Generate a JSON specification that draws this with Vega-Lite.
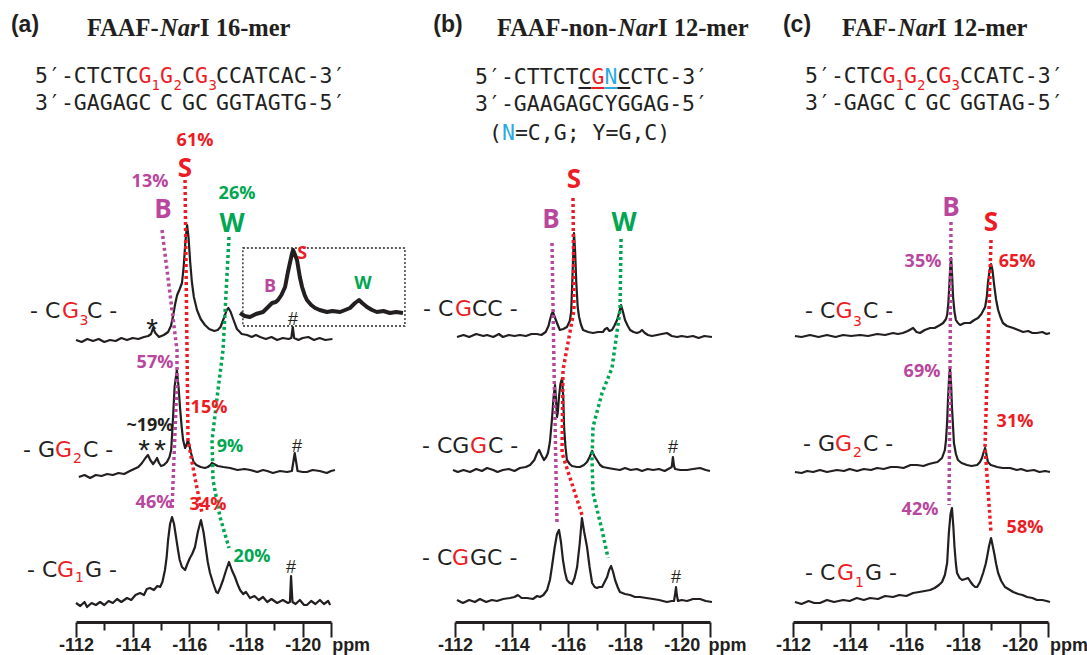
{
"$schema":"https://vega.github.io/schema/vega-lite/v6.json",
"background":"white",
"padding":{"left":10,"top":0,"right":0,"bottom":0},
"config":{"view":{"stroke":null}},
"datasets":{
"sa":[
{"s":3,"x":-112.0,"y":282},{"s":3,"x":-112.2,"y":280},{"s":3,"x":-112.4,"y":283},{"s":3,"x":-112.6,"y":281},{"s":3,"x":-112.8,"y":283},{"s":3,"x":-113.0,"y":280},{"s":3,"x":-113.2,"y":282},{"s":3,"x":-113.4,"y":281},{"s":3,"x":-113.6,"y":284},{"s":3,"x":-113.8,"y":282},{"s":3,"x":-114.0,"y":284},{"s":3,"x":-114.2,"y":283},{"s":3,"x":-114.4,"y":285},{"s":3,"x":-114.55,"y":286},{"s":3,"x":-114.65,"y":288},{"s":3,"x":-114.72,"y":294},{"s":3,"x":-114.8,"y":289},{"s":3,"x":-114.93,"y":285},{"s":3,"x":-115.1,"y":287},{"s":3,"x":-115.25,"y":290},{"s":3,"x":-115.35,"y":296},{"s":3,"x":-115.42,"y":305},{"s":3,"x":-115.5,"y":318},{"s":3,"x":-115.57,"y":327},{"s":3,"x":-115.66,"y":333},{"s":3,"x":-115.74,"y":339},{"s":3,"x":-115.8,"y":355},{"s":3,"x":-115.86,"y":380},{"s":3,"x":-115.92,"y":397},{"s":3,"x":-115.97,"y":385},{"s":3,"x":-116.03,"y":360},{"s":3,"x":-116.09,"y":340},{"s":3,"x":-116.16,"y":325},{"s":3,"x":-116.27,"y":312},{"s":3,"x":-116.4,"y":303},{"s":3,"x":-116.55,"y":297},{"s":3,"x":-116.7,"y":293},{"s":3,"x":-116.88,"y":291},{"s":3,"x":-117.0,"y":292},{"s":3,"x":-117.1,"y":295},{"s":3,"x":-117.22,"y":304},{"s":3,"x":-117.32,"y":312},{"s":3,"x":-117.38,"y":314},{"s":3,"x":-117.46,"y":310},{"s":3,"x":-117.56,"y":302},{"s":3,"x":-117.68,"y":293},{"s":3,"x":-117.85,"y":288},{"s":3,"x":-118.04,"y":287},{"s":3,"x":-118.2,"y":285},{"s":3,"x":-118.35,"y":287},{"s":3,"x":-118.5,"y":285},{"s":3,"x":-118.7,"y":283},{"s":3,"x":-118.9,"y":285},{"s":3,"x":-119.1,"y":282},{"s":3,"x":-119.3,"y":284},{"s":3,"x":-119.5,"y":283},{"s":3,"x":-119.6,"y":284},{"s":3,"x":-119.65,"y":295},{"s":3,"x":-119.7,"y":284},{"s":3,"x":-119.85,"y":282},{"s":3,"x":-120.0,"y":284},{"s":3,"x":-120.2,"y":285},{"s":3,"x":-120.4,"y":282},{"s":3,"x":-120.6,"y":284},{"s":3,"x":-120.8,"y":282},{"s":3,"x":-121.05,"y":283},
{"s":2,"x":-112.1,"y":145},{"s":2,"x":-112.3,"y":147},{"s":2,"x":-112.5,"y":144},{"s":2,"x":-112.7,"y":147},{"s":2,"x":-112.9,"y":146},{"s":2,"x":-113.1,"y":148},{"s":2,"x":-113.3,"y":147},{"s":2,"x":-113.5,"y":149},{"s":2,"x":-113.7,"y":148},{"s":2,"x":-113.9,"y":151},{"s":2,"x":-114.05,"y":153},{"s":2,"x":-114.2,"y":155},{"s":2,"x":-114.33,"y":159},{"s":2,"x":-114.45,"y":164},{"s":2,"x":-114.54,"y":167},{"s":2,"x":-114.62,"y":162},{"s":2,"x":-114.72,"y":158},{"s":2,"x":-114.8,"y":161},{"s":2,"x":-114.86,"y":164},{"s":2,"x":-114.93,"y":159},{"s":2,"x":-115.0,"y":156},{"s":2,"x":-115.1,"y":157},{"s":2,"x":-115.21,"y":160},{"s":2,"x":-115.3,"y":165},{"s":2,"x":-115.36,"y":172},{"s":2,"x":-115.42,"y":202},{"s":2,"x":-115.48,"y":235},{"s":2,"x":-115.56,"y":252},{"s":2,"x":-115.62,"y":235},{"s":2,"x":-115.67,"y":215},{"s":2,"x":-115.73,"y":195},{"s":2,"x":-115.78,"y":182},{"s":2,"x":-115.85,"y":174},{"s":2,"x":-115.9,"y":177},{"s":2,"x":-115.95,"y":182},{"s":2,"x":-116.0,"y":177},{"s":2,"x":-116.06,"y":169},{"s":2,"x":-116.15,"y":160},{"s":2,"x":-116.25,"y":157},{"s":2,"x":-116.4,"y":155},{"s":2,"x":-116.55,"y":154},{"s":2,"x":-116.65,"y":155},{"s":2,"x":-116.75,"y":157},{"s":2,"x":-116.8,"y":159},{"s":2,"x":-116.87,"y":158},{"s":2,"x":-117.0,"y":156},{"s":2,"x":-117.2,"y":155},{"s":2,"x":-117.44,"y":154},{"s":2,"x":-117.7,"y":152},{"s":2,"x":-117.95,"y":153},{"s":2,"x":-118.15,"y":152},{"s":2,"x":-118.4,"y":150},{"s":2,"x":-118.6,"y":152},{"s":2,"x":-118.75,"y":151},{"s":2,"x":-118.95,"y":149},{"s":2,"x":-119.2,"y":151},{"s":2,"x":-119.45,"y":150},{"s":2,"x":-119.62,"y":151},{"s":2,"x":-119.67,"y":160},{"s":2,"x":-119.72,"y":169},{"s":2,"x":-119.77,"y":160},{"s":2,"x":-119.82,"y":151},{"s":2,"x":-120.0,"y":150},{"s":2,"x":-120.15,"y":150},{"s":2,"x":-120.35,"y":152},{"s":2,"x":-120.6,"y":151},{"s":2,"x":-120.85,"y":149},{"s":2,"x":-121.0,"y":151},{"s":2,"x":-121.14,"y":152},
{"s":1,"x":-112.0,"y":19},{"s":1,"x":-112.15,"y":16},{"s":1,"x":-112.3,"y":20},{"s":1,"x":-112.39,"y":15},{"s":1,"x":-112.55,"y":19},{"s":1,"x":-112.7,"y":17},{"s":1,"x":-112.85,"y":20},{"s":1,"x":-113.0,"y":17},{"s":1,"x":-113.15,"y":21},{"s":1,"x":-113.3,"y":19},{"s":1,"x":-113.45,"y":23},{"s":1,"x":-113.6,"y":20},{"s":1,"x":-113.8,"y":24},{"s":1,"x":-113.95,"y":22},{"s":1,"x":-114.1,"y":27},{"s":1,"x":-114.26,"y":29},{"s":1,"x":-114.4,"y":27},{"s":1,"x":-114.5,"y":33},{"s":1,"x":-114.61,"y":34},{"s":1,"x":-114.75,"y":32},{"s":1,"x":-114.87,"y":36},{"s":1,"x":-114.97,"y":35},{"s":1,"x":-115.05,"y":40},{"s":1,"x":-115.14,"y":52},{"s":1,"x":-115.2,"y":65},{"s":1,"x":-115.25,"y":82},{"s":1,"x":-115.32,"y":98},{"s":1,"x":-115.39,"y":105},{"s":1,"x":-115.46,"y":98},{"s":1,"x":-115.53,"y":85},{"s":1,"x":-115.6,"y":72},{"s":1,"x":-115.66,"y":62},{"s":1,"x":-115.74,"y":55},{"s":1,"x":-115.85,"y":52},{"s":1,"x":-115.93,"y":58},{"s":1,"x":-116.02,"y":64},{"s":1,"x":-116.1,"y":68},{"s":1,"x":-116.2,"y":75},{"s":1,"x":-116.3,"y":90},{"s":1,"x":-116.41,"y":102},{"s":1,"x":-116.5,"y":90},{"s":1,"x":-116.57,"y":76},{"s":1,"x":-116.65,"y":60},{"s":1,"x":-116.73,"y":49},{"s":1,"x":-116.85,"y":38},{"s":1,"x":-116.95,"y":30},{"s":1,"x":-117.01,"y":29},{"s":1,"x":-117.1,"y":35},{"s":1,"x":-117.19,"y":42},{"s":1,"x":-117.3,"y":52},{"s":1,"x":-117.4,"y":60},{"s":1,"x":-117.5,"y":52},{"s":1,"x":-117.61,"y":45},{"s":1,"x":-117.7,"y":38},{"s":1,"x":-117.79,"y":32},{"s":1,"x":-117.9,"y":28},{"s":1,"x":-118.0,"y":30},{"s":1,"x":-118.14,"y":24},{"s":1,"x":-118.3,"y":26},{"s":1,"x":-118.45,"y":22},{"s":1,"x":-118.6,"y":25},{"s":1,"x":-118.75,"y":20},{"s":1,"x":-118.9,"y":23},{"s":1,"x":-119.1,"y":19},{"s":1,"x":-119.3,"y":22},{"s":1,"x":-119.48,"y":19},{"s":1,"x":-119.55,"y":20},{"s":1,"x":-119.59,"y":46},{"s":1,"x":-119.64,"y":20},{"s":1,"x":-119.75,"y":18},{"s":1,"x":-119.9,"y":22},{"s":1,"x":-120.05,"y":17},{"s":1,"x":-120.15,"y":17},{"s":1,"x":-120.3,"y":21},{"s":1,"x":-120.45,"y":18},{"s":1,"x":-120.61,"y":22},{"s":1,"x":-120.75,"y":18},{"s":1,"x":-120.9,"y":21},{"s":1,"x":-120.97,"y":17}
],
"inset":[
{"x":-117.79,"y":309},{"x":-117.95,"y":306},{"x":-118.14,"y":305},{"x":-118.35,"y":308},{"x":-118.6,"y":310},{"x":-118.78,"y":315},{"x":-118.92,"y":319},{"x":-119.05,"y":320},{"x":-119.13,"y":322},{"x":-119.25,"y":327},{"x":-119.38,"y":335},{"x":-119.48,"y":350},{"x":-119.55,"y":359},{"x":-119.62,"y":368},{"x":-119.66,"y":372},{"x":-119.72,"y":368},{"x":-119.8,"y":362},{"x":-119.9,"y":345},{"x":-119.98,"y":335},{"x":-120.07,"y":327},{"x":-120.15,"y":322},{"x":-120.3,"y":317},{"x":-120.44,"y":314},{"x":-120.6,"y":312},{"x":-120.86,"y":310},{"x":-121.05,"y":311},{"x":-121.32,"y":310},{"x":-121.5,"y":312},{"x":-121.67,"y":314},{"x":-121.85,"y":319},{"x":-121.99,"y":322},{"x":-122.1,"y":319},{"x":-122.27,"y":315},{"x":-122.45,"y":312},{"x":-122.62,"y":310},{"x":-122.85,"y":311},{"x":-123.08,"y":309},{"x":-123.3,"y":310},{"x":-123.54,"y":309}
],
"box":[{"x":-117.89,"x2":-123.61,"y":374,"y2":296}],
"sb":[
{"s":3,"x":-112.07,"y":285},{"s":3,"x":-112.3,"y":287},{"s":3,"x":-112.5,"y":285},{"s":3,"x":-112.75,"y":288},{"s":3,"x":-113.0,"y":286},{"s":3,"x":-113.13,"y":287},{"s":3,"x":-113.35,"y":285},{"s":3,"x":-113.55,"y":288},{"s":3,"x":-113.69,"y":285},{"s":3,"x":-113.9,"y":287},{"s":3,"x":-114.1,"y":286},{"s":3,"x":-114.29,"y":287},{"s":3,"x":-114.5,"y":286},{"s":3,"x":-114.7,"y":288},{"s":3,"x":-114.89,"y":288},{"s":3,"x":-115.05,"y":287},{"s":3,"x":-115.2,"y":290},{"s":3,"x":-115.3,"y":296},{"s":3,"x":-115.35,"y":302},{"s":3,"x":-115.41,"y":308},{"s":3,"x":-115.46,"y":310},{"s":3,"x":-115.52,"y":305},{"s":3,"x":-115.6,"y":299},{"s":3,"x":-115.7,"y":292},{"s":3,"x":-115.82,"y":293},{"s":3,"x":-115.95,"y":295},{"s":3,"x":-116.05,"y":301},{"s":3,"x":-116.1,"y":310},{"s":3,"x":-116.14,"y":340},{"s":3,"x":-116.17,"y":365},{"s":3,"x":-116.2,"y":389},{"s":3,"x":-116.24,"y":370},{"s":3,"x":-116.28,"y":340},{"s":3,"x":-116.33,"y":315},{"s":3,"x":-116.38,"y":305},{"s":3,"x":-116.45,"y":297},{"s":3,"x":-116.52,"y":292},{"s":3,"x":-116.7,"y":290},{"s":3,"x":-116.87,"y":289},{"s":3,"x":-117.05,"y":290},{"s":3,"x":-117.22,"y":290},{"s":3,"x":-117.3,"y":293},{"s":3,"x":-117.37,"y":294},{"s":3,"x":-117.45,"y":291},{"s":3,"x":-117.54,"y":292},{"s":3,"x":-117.62,"y":296},{"s":3,"x":-117.72,"y":302},{"s":3,"x":-117.8,"y":310},{"s":3,"x":-117.86,"y":317},{"s":3,"x":-117.93,"y":310},{"s":3,"x":-118.0,"y":302},{"s":3,"x":-118.1,"y":296},{"s":3,"x":-118.18,"y":292},{"s":3,"x":-118.3,"y":290},{"s":3,"x":-118.42,"y":289},{"s":3,"x":-118.52,"y":290},{"s":3,"x":-118.6,"y":292},{"s":3,"x":-118.7,"y":289},{"s":3,"x":-118.81,"y":287},{"s":3,"x":-118.95,"y":286},{"s":3,"x":-119.13,"y":287},{"s":3,"x":-119.3,"y":288},{"s":3,"x":-119.48,"y":289},{"s":3,"x":-119.65,"y":286},{"s":3,"x":-119.84,"y":285},{"s":3,"x":-120.0,"y":286},{"s":3,"x":-120.2,"y":285},{"s":3,"x":-120.4,"y":286},{"s":3,"x":-120.6,"y":284},{"s":3,"x":-120.8,"y":286},{"s":3,"x":-121.07,"y":285},
{"s":2,"x":-111.93,"y":152},{"s":2,"x":-112.1,"y":150},{"s":2,"x":-112.3,"y":152},{"s":2,"x":-112.53,"y":150},{"s":2,"x":-112.75,"y":153},{"s":2,"x":-112.95,"y":151},{"s":2,"x":-113.13,"y":154},{"s":2,"x":-113.35,"y":152},{"s":2,"x":-113.5,"y":150},{"s":2,"x":-113.69,"y":152},{"s":2,"x":-113.9,"y":153},{"s":2,"x":-114.1,"y":151},{"s":2,"x":-114.29,"y":154},{"s":2,"x":-114.5,"y":155},{"s":2,"x":-114.65,"y":157},{"s":2,"x":-114.8,"y":162},{"s":2,"x":-114.9,"y":169},{"s":2,"x":-114.97,"y":172},{"s":2,"x":-115.05,"y":167},{"s":2,"x":-115.14,"y":162},{"s":2,"x":-115.22,"y":165},{"s":2,"x":-115.28,"y":169},{"s":2,"x":-115.35,"y":180},{"s":2,"x":-115.42,"y":202},{"s":2,"x":-115.48,"y":225},{"s":2,"x":-115.53,"y":237},{"s":2,"x":-115.57,"y":220},{"s":2,"x":-115.6,"y":205},{"s":2,"x":-115.63,"y":210},{"s":2,"x":-115.67,"y":225},{"s":2,"x":-115.72,"y":238},{"s":2,"x":-115.78,"y":244},{"s":2,"x":-115.82,"y":225},{"s":2,"x":-115.85,"y":195},{"s":2,"x":-115.9,"y":175},{"s":2,"x":-115.95,"y":162},{"s":2,"x":-116.05,"y":158},{"s":2,"x":-116.13,"y":156},{"s":2,"x":-116.3,"y":155},{"s":2,"x":-116.41,"y":155},{"s":2,"x":-116.55,"y":157},{"s":2,"x":-116.66,"y":160},{"s":2,"x":-116.75,"y":165},{"s":2,"x":-116.84,"y":171},{"s":2,"x":-116.92,"y":166},{"s":2,"x":-117.01,"y":162},{"s":2,"x":-117.12,"y":157},{"s":2,"x":-117.22,"y":155},{"s":2,"x":-117.4,"y":154},{"s":2,"x":-117.6,"y":153},{"s":2,"x":-117.82,"y":152},{"s":2,"x":-118.0,"y":154},{"s":2,"x":-118.2,"y":152},{"s":2,"x":-118.42,"y":153},{"s":2,"x":-118.6,"y":151},{"s":2,"x":-118.8,"y":153},{"s":2,"x":-118.99,"y":152},{"s":2,"x":-119.2,"y":153},{"s":2,"x":-119.4,"y":151},{"s":2,"x":-119.59,"y":154},{"s":2,"x":-119.65,"y":155},{"s":2,"x":-119.69,"y":165},{"s":2,"x":-119.73,"y":156},{"s":2,"x":-119.77,"y":153},{"s":2,"x":-119.95,"y":152},{"s":2,"x":-120.19,"y":152},{"s":2,"x":-120.4,"y":153},{"s":2,"x":-120.65,"y":154},{"s":2,"x":-120.85,"y":152},{"s":2,"x":-121.0,"y":151},
{"s":1,"x":-112.07,"y":22},{"s":1,"x":-112.28,"y":19},{"s":1,"x":-112.5,"y":22},{"s":1,"x":-112.7,"y":20},{"s":1,"x":-112.88,"y":23},{"s":1,"x":-113.1,"y":20},{"s":1,"x":-113.3,"y":22},{"s":1,"x":-113.48,"y":21},{"s":1,"x":-113.7,"y":23},{"s":1,"x":-113.94,"y":24},{"s":1,"x":-114.1,"y":25},{"s":1,"x":-114.22,"y":27},{"s":1,"x":-114.35,"y":24},{"s":1,"x":-114.54,"y":24},{"s":1,"x":-114.75,"y":23},{"s":1,"x":-114.9,"y":26},{"s":1,"x":-115.0,"y":25},{"s":1,"x":-115.12,"y":27},{"s":1,"x":-115.25,"y":32},{"s":1,"x":-115.35,"y":42},{"s":1,"x":-115.42,"y":55},{"s":1,"x":-115.52,"y":75},{"s":1,"x":-115.6,"y":88},{"s":1,"x":-115.67,"y":92},{"s":1,"x":-115.74,"y":80},{"s":1,"x":-115.81,"y":62},{"s":1,"x":-115.88,"y":50},{"s":1,"x":-115.95,"y":42},{"s":1,"x":-116.05,"y":39},{"s":1,"x":-116.13,"y":38},{"s":1,"x":-116.22,"y":44},{"s":1,"x":-116.31,"y":55},{"s":1,"x":-116.4,"y":78},{"s":1,"x":-116.48,"y":104},{"s":1,"x":-116.56,"y":90},{"s":1,"x":-116.66,"y":75},{"s":1,"x":-116.75,"y":55},{"s":1,"x":-116.84,"y":39},{"s":1,"x":-116.93,"y":35},{"s":1,"x":-117.01,"y":34},{"s":1,"x":-117.1,"y":35},{"s":1,"x":-117.19,"y":35},{"s":1,"x":-117.28,"y":40},{"s":1,"x":-117.37,"y":45},{"s":1,"x":-117.44,"y":52},{"s":1,"x":-117.51,"y":56},{"s":1,"x":-117.58,"y":50},{"s":1,"x":-117.65,"y":42},{"s":1,"x":-117.74,"y":35},{"s":1,"x":-117.82,"y":30},{"s":1,"x":-118.0,"y":28},{"s":1,"x":-118.18,"y":27},{"s":1,"x":-118.35,"y":25},{"s":1,"x":-118.53,"y":25},{"s":1,"x":-118.75,"y":24},{"s":1,"x":-118.99,"y":23},{"s":1,"x":-119.2,"y":22},{"s":1,"x":-119.48,"y":20},{"s":1,"x":-119.65,"y":21},{"s":1,"x":-119.73,"y":21},{"s":1,"x":-119.78,"y":30},{"s":1,"x":-119.8,"y":35},{"s":1,"x":-119.83,"y":27},{"s":1,"x":-119.87,"y":21},{"s":1,"x":-120.0,"y":22},{"s":1,"x":-120.19,"y":21},{"s":1,"x":-120.4,"y":23},{"s":1,"x":-120.65,"y":23},{"s":1,"x":-120.85,"y":21},{"s":1,"x":-121.07,"y":20}
],
"sc":[
{"s":3,"x":-112.07,"y":286},{"s":3,"x":-112.3,"y":285},{"s":3,"x":-112.6,"y":287},{"s":3,"x":-112.9,"y":285},{"s":3,"x":-113.2,"y":287},{"s":3,"x":-113.5,"y":285},{"s":3,"x":-113.77,"y":287},{"s":3,"x":-114.05,"y":286},{"s":3,"x":-114.37,"y":287},{"s":3,"x":-114.65,"y":286},{"s":3,"x":-114.97,"y":288},{"s":3,"x":-115.25,"y":287},{"s":3,"x":-115.53,"y":289},{"s":3,"x":-115.7,"y":288},{"s":3,"x":-115.88,"y":289},{"s":3,"x":-116.05,"y":291},{"s":3,"x":-116.24,"y":294},{"s":3,"x":-116.36,"y":290},{"s":3,"x":-116.48,"y":289},{"s":3,"x":-116.65,"y":292},{"s":3,"x":-116.84,"y":294},{"s":3,"x":-117.0,"y":294},{"s":3,"x":-117.19,"y":297},{"s":3,"x":-117.3,"y":299},{"s":3,"x":-117.4,"y":303},{"s":3,"x":-117.44,"y":307},{"s":3,"x":-117.48,"y":318},{"s":3,"x":-117.51,"y":332},{"s":3,"x":-117.55,"y":355},{"s":3,"x":-117.58,"y":364},{"s":3,"x":-117.61,"y":350},{"s":3,"x":-117.65,"y":325},{"s":3,"x":-117.7,"y":310},{"s":3,"x":-117.75,"y":302},{"s":3,"x":-117.82,"y":299},{"s":3,"x":-117.9,"y":297},{"s":3,"x":-118.05,"y":299},{"s":3,"x":-118.25,"y":299},{"s":3,"x":-118.4,"y":302},{"s":3,"x":-118.53,"y":304},{"s":3,"x":-118.65,"y":308},{"s":3,"x":-118.78,"y":315},{"s":3,"x":-118.84,"y":325},{"s":3,"x":-118.88,"y":339},{"s":3,"x":-118.94,"y":352},{"s":3,"x":-118.99,"y":358},{"s":3,"x":-119.04,"y":352},{"s":3,"x":-119.1,"y":337},{"s":3,"x":-119.17,"y":322},{"s":3,"x":-119.24,"y":312},{"s":3,"x":-119.32,"y":305},{"s":3,"x":-119.41,"y":299},{"s":3,"x":-119.55,"y":296},{"s":3,"x":-119.77,"y":294},{"s":3,"x":-119.95,"y":292},{"s":3,"x":-120.12,"y":290},{"s":3,"x":-120.3,"y":291},{"s":3,"x":-120.45,"y":289},{"s":3,"x":-120.61,"y":289},{"s":3,"x":-120.8,"y":290},{"s":3,"x":-120.95,"y":288},{"s":3,"x":-121.07,"y":289},
{"s":2,"x":-112.07,"y":150},{"s":2,"x":-112.3,"y":149},{"s":2,"x":-112.5,"y":151},{"s":2,"x":-112.71,"y":150},{"s":2,"x":-112.95,"y":152},{"s":2,"x":-113.2,"y":150},{"s":2,"x":-113.55,"y":152},{"s":2,"x":-113.8,"y":151},{"s":2,"x":-114.0,"y":153},{"s":2,"x":-114.26,"y":151},{"s":2,"x":-114.5,"y":153},{"s":2,"x":-114.75,"y":152},{"s":2,"x":-114.97,"y":154},{"s":2,"x":-115.2,"y":153},{"s":2,"x":-115.45,"y":155},{"s":2,"x":-115.67,"y":155},{"s":2,"x":-115.9,"y":154},{"s":2,"x":-116.15,"y":157},{"s":2,"x":-116.38,"y":157},{"s":2,"x":-116.6,"y":156},{"s":2,"x":-116.8,"y":158},{"s":2,"x":-116.94,"y":159},{"s":2,"x":-117.1,"y":160},{"s":2,"x":-117.26,"y":164},{"s":2,"x":-117.36,"y":172},{"s":2,"x":-117.4,"y":182},{"s":2,"x":-117.44,"y":200},{"s":2,"x":-117.47,"y":222},{"s":2,"x":-117.51,"y":245},{"s":2,"x":-117.54,"y":254},{"s":2,"x":-117.58,"y":238},{"s":2,"x":-117.61,"y":215},{"s":2,"x":-117.65,"y":195},{"s":2,"x":-117.68,"y":179},{"s":2,"x":-117.75,"y":168},{"s":2,"x":-117.82,"y":162},{"s":2,"x":-117.95,"y":159},{"s":2,"x":-118.14,"y":157},{"s":2,"x":-118.3,"y":156},{"s":2,"x":-118.5,"y":157},{"s":2,"x":-118.6,"y":160},{"s":2,"x":-118.67,"y":164},{"s":2,"x":-118.73,"y":170},{"s":2,"x":-118.78,"y":174},{"s":2,"x":-118.83,"y":167},{"s":2,"x":-118.88,"y":160},{"s":2,"x":-118.98,"y":157},{"s":2,"x":-119.1,"y":156},{"s":2,"x":-119.2,"y":155},{"s":2,"x":-119.4,"y":154},{"s":2,"x":-119.66,"y":154},{"s":2,"x":-119.9,"y":152},{"s":2,"x":-120.05,"y":153},{"s":2,"x":-120.26,"y":151},{"s":2,"x":-120.5,"y":152},{"s":2,"x":-120.7,"y":150},{"s":2,"x":-120.9,"y":151},{"s":2,"x":-121.07,"y":150},
{"s":1,"x":-112.07,"y":20},{"s":1,"x":-112.3,"y":18},{"s":1,"x":-112.55,"y":21},{"s":1,"x":-112.75,"y":19},{"s":1,"x":-112.95,"y":19},{"s":1,"x":-113.2,"y":22},{"s":1,"x":-113.45,"y":20},{"s":1,"x":-113.77,"y":22},{"s":1,"x":-114.0,"y":21},{"s":1,"x":-114.25,"y":24},{"s":1,"x":-114.5,"y":22},{"s":1,"x":-114.72,"y":24},{"s":1,"x":-115.0,"y":23},{"s":1,"x":-115.25,"y":26},{"s":1,"x":-115.53,"y":25},{"s":1,"x":-115.75,"y":27},{"s":1,"x":-116.0,"y":26},{"s":1,"x":-116.24,"y":29},{"s":1,"x":-116.45,"y":30},{"s":1,"x":-116.65,"y":31},{"s":1,"x":-116.84,"y":32},{"s":1,"x":-117.0,"y":34},{"s":1,"x":-117.15,"y":37},{"s":1,"x":-117.26,"y":40},{"s":1,"x":-117.36,"y":47},{"s":1,"x":-117.44,"y":59},{"s":1,"x":-117.5,"y":89},{"s":1,"x":-117.56,"y":108},{"s":1,"x":-117.61,"y":114},{"s":1,"x":-117.66,"y":95},{"s":1,"x":-117.7,"y":75},{"s":1,"x":-117.75,"y":58},{"s":1,"x":-117.79,"y":49},{"s":1,"x":-117.88,"y":44},{"s":1,"x":-117.97,"y":42},{"s":1,"x":-118.08,"y":43},{"s":1,"x":-118.18,"y":44},{"s":1,"x":-118.27,"y":40},{"s":1,"x":-118.35,"y":37},{"s":1,"x":-118.43,"y":35},{"s":1,"x":-118.5,"y":35},{"s":1,"x":-118.6,"y":40},{"s":1,"x":-118.71,"y":49},{"s":1,"x":-118.8,"y":58},{"s":1,"x":-118.85,"y":65},{"s":1,"x":-118.92,"y":76},{"s":1,"x":-118.99,"y":84},{"s":1,"x":-119.05,"y":76},{"s":1,"x":-119.1,"y":69},{"s":1,"x":-119.17,"y":58},{"s":1,"x":-119.24,"y":49},{"s":1,"x":-119.35,"y":41},{"s":1,"x":-119.48,"y":35},{"s":1,"x":-119.6,"y":33},{"s":1,"x":-119.77,"y":30},{"s":1,"x":-119.95,"y":28},{"s":1,"x":-120.1,"y":27},{"s":1,"x":-120.26,"y":25},{"s":1,"x":-120.45,"y":24},{"s":1,"x":-120.61,"y":22},{"s":1,"x":-120.8,"y":22},{"s":1,"x":-120.95,"y":21},{"s":1,"x":-121.07,"y":20}
],
"ga":[
{"hue":"B","o":1,"x":-115.036,"y":392},{"hue":"B","o":2,"x":-115.565,"y":272},{"hue":"B","o":3,"x":-115.565,"y":242},{"hue":"B","o":4,"x":-115.389,"y":112},
{"hue":"S","o":1,"x":-115.848,"y":442},{"hue":"S","o":2,"x":-115.918,"y":272},{"hue":"S","o":3,"x":-115.953,"y":182},{"hue":"S","o":4,"x":-116.2,"y":144},{"hue":"S","o":5,"x":-116.448,"y":109},
{"hue":"W","o":1,"x":-117.401,"y":385},{"hue":"W","o":2,"x":-117.189,"y":272},{"hue":"W","o":3,"x":-117.012,"y":232},{"hue":"W","o":4,"x":-116.801,"y":182},{"hue":"W","o":5,"x":-116.836,"y":142},{"hue":"W","o":6,"x":-117.083,"y":105},{"hue":"W","o":7,"x":-117.401,"y":74}
],
"gb":[
{"hue":"B","o":1,"x":-115.424,"y":379},{"hue":"B","o":2,"x":-115.494,"y":255},{"hue":"B","o":3,"x":-115.6,"y":99},
{"hue":"S","o":1,"x":-116.165,"y":424},{"hue":"S","o":2,"x":-116.2,"y":312},{"hue":"S","o":3,"x":-115.812,"y":252},{"hue":"S","o":4,"x":-115.777,"y":169},{"hue":"S","o":5,"x":-116.483,"y":107},
{"hue":"W","o":1,"x":-117.86,"y":383},{"hue":"W","o":2,"x":-117.824,"y":312},{"hue":"W","o":3,"x":-117.542,"y":254},{"hue":"W","o":4,"x":-117.189,"y":229},{"hue":"W","o":5,"x":-116.871,"y":195},{"hue":"W","o":6,"x":-116.836,"y":162},{"hue":"W","o":7,"x":-116.871,"y":129},{"hue":"W","o":8,"x":-117.189,"y":92},{"hue":"W","o":9,"x":-117.401,"y":64}
],
"gc":[
{"hue":"B","o":1,"x":-117.577,"y":400},{"hue":"B","o":2,"x":-117.542,"y":252},{"hue":"B","o":3,"x":-117.507,"y":117},
{"hue":"S","o":1,"x":-118.989,"y":382},{"hue":"S","o":2,"x":-118.777,"y":175},{"hue":"S","o":3,"x":-118.989,"y":89}
],
"ul":[
{"hue":"plain","x":-116.359,"x2":-116.818,"y":534},{"hue":"mod","x":-116.818,"x2":-117.274,"y":534},{"hue":"N","x":-117.274,"x2":-117.732,"y":534},{"hue":"plain","x":-117.732,"x2":-118.188,"y":534}
],
"ta":[
{"k":"letter","hue":"plain","t":"(a)","x":-110.2,"y":597},
{"k":"title","hue":"plain","t":"FAAF-","x":-112.388,"y":586},
{"k":"titleI","hue":"plain","t":"Nar","x":-114.965,"y":586},
{"k":"title","hue":"plain","t":"I 16-mer","x":-116.377,"y":586},
{"k":"seq","hue":"plain","t":"5′-CTCTC","x":-110.553,"y":539},
{"k":"seq","hue":"mod","t":"G","x":-114.206,"y":539},
{"k":"sub","hue":"mod","t":"1","x":-114.665,"y":532},
{"k":"seq","hue":"mod","t":"G","x":-114.965,"y":539},
{"k":"sub","hue":"mod","t":"2","x":-115.442,"y":532},
{"k":"seq","hue":"plain","t":"C","x":-115.742,"y":539},
{"k":"seq","hue":"mod","t":"G","x":-116.2,"y":539},
{"k":"sub","hue":"mod","t":"3","x":-116.677,"y":532},
{"k":"seq","hue":"plain","t":"CCATCAC-3′","x":-116.942,"y":539},
{"k":"seq","hue":"plain","t":"3′-GAGAGC","x":-110.553,"y":512},
{"k":"seq","hue":"plain","t":"C","x":-114.965,"y":512},
{"k":"seq","hue":"plain","t":"GC","x":-115.742,"y":512},
{"k":"seq","hue":"plain","t":"GGTAGTG-5′","x":-116.942,"y":512},
{"k":"name","hue":"plain","t":"- C","x":-110.376,"y":304},
{"k":"name","hue":"mod","t":"G","x":-111.506,"y":304},
{"k":"nsub","hue":"mod","t":"3","x":-112.124,"y":297},
{"k":"name","hue":"plain","t":"C -","x":-112.388,"y":304},
{"k":"name","hue":"plain","t":"- G","x":-110.129,"y":165},
{"k":"name","hue":"mod","t":"G","x":-111.259,"y":165},
{"k":"nsub","hue":"mod","t":"2","x":-111.894,"y":159},
{"k":"name","hue":"plain","t":"C -","x":-112.247,"y":165},
{"k":"name","hue":"plain","t":"- C","x":-110.27,"y":45},
{"k":"name","hue":"mod","t":"G","x":-111.329,"y":45},
{"k":"nsub","hue":"mod","t":"1","x":-111.965,"y":40},
{"k":"name","hue":"plain","t":"G -","x":-112.318,"y":45},
{"k":"big","hue":"S","t":"S","x":-115.848,"y":453},
{"k":"big","hue":"B","t":"B","x":-115.071,"y":412},
{"k":"big","hue":"W","t":"W","x":-117.507,"y":398},
{"k":"pct","hue":"S","t":"61%","x":-116.2,"y":481},
{"k":"pct","hue":"B","t":"13%","x":-114.612,"y":440},
{"k":"pct","hue":"W","t":"26%","x":-117.683,"y":428},
{"k":"pct","hue":"B","t":"57%","x":-114.789,"y":259},
{"k":"pct","hue":"S","t":"15%","x":-116.695,"y":214},
{"k":"pct","hue":"plain","t":"~19%","x":-114.612,"y":196},
{"k":"pct","hue":"W","t":"9%","x":-117.436,"y":175},
{"k":"pct","hue":"B","t":"46%","x":-114.753,"y":119},
{"k":"pct","hue":"S","t":"34%","x":-116.659,"y":117},
{"k":"pct","hue":"W","t":"20%","x":-118.212,"y":65},
{"k":"inset","hue":"B","t":"B","x":-118.85,"y":335},
{"k":"inset","hue":"S","t":"S","x":-119.98,"y":368},
{"k":"inset","hue":"W","t":"W","x":-122.13,"y":338},
{"k":"star","hue":"plain","t":"*","x":-114.683,"y":283},
{"k":"star","hue":"plain","t":"*","x":-114.4,"y":162},
{"k":"star","hue":"plain","t":"*","x":-114.965,"y":162},
{"k":"hash","hue":"plain","t":"#","x":-119.66,"y":297},
{"k":"hash","hue":"plain","t":"#","x":-119.801,"y":170},
{"k":"hash","hue":"plain","t":"#","x":-119.589,"y":49},
{"k":"ppm","hue":"plain","t":"ppm","x":-121.04,"y":-29}
],
"tb":[
{"k":"letter","hue":"plain","t":"(b)","x":-111.753,"y":597},
{"k":"title","hue":"plain","t":"FAAF-non-","x":-113.483,"y":586},
{"k":"titleI","hue":"plain","t":"Nar","x":-117.754,"y":586},
{"k":"title","hue":"plain","t":"I 12-mer","x":-119.166,"y":586},
{"k":"seq","hue":"plain","t":"5′-CTTCTC","x":-112.706,"y":538},
{"k":"seq","hue":"mod","t":"G","x":-116.818,"y":538},
{"k":"seq","hue":"N","t":"N","x":-117.274,"y":538},
{"k":"seq","hue":"plain","t":"CCTC-3′","x":-117.732,"y":538},
{"k":"seq","hue":"plain","t":"3′-GAAGAGCYGGAG-5′","x":-112.706,"y":511},
{"k":"seq","hue":"plain","t":"(","x":-113.2,"y":482},
{"k":"seq","hue":"N","t":"N","x":-113.655,"y":482},
{"k":"seq","hue":"plain","t":"=C,G; Y=G,C)","x":-114.114,"y":482},
{"k":"name","hue":"plain","t":"- C","x":-110.87,"y":306},
{"k":"name","hue":"mod","t":"G","x":-112.0,"y":306},
{"k":"name","hue":"plain","t":"CC -","x":-112.6,"y":306},
{"k":"name","hue":"plain","t":"- CG","x":-110.835,"y":169},
{"k":"name","hue":"mod","t":"G","x":-112.529,"y":169},
{"k":"name","hue":"plain","t":"C -","x":-113.165,"y":169},
{"k":"name","hue":"plain","t":"- C","x":-110.835,"y":57},
{"k":"name","hue":"mod","t":"G","x":-111.894,"y":57},
{"k":"name","hue":"plain","t":"GC -","x":-112.529,"y":57},
{"k":"big","hue":"B","t":"B","x":-115.389,"y":402},
{"k":"big","hue":"S","t":"S","x":-116.2,"y":442},
{"k":"big","hue":"W","t":"W","x":-117.965,"y":399},
{"k":"hash","hue":"plain","t":"#","x":-119.695,"y":169},
{"k":"hash","hue":"plain","t":"#","x":-119.801,"y":39},
{"k":"ppm","hue":"plain","t":"ppm","x":-120.95,"y":-29}
],
"tc":[
{"k":"letter","hue":"plain","t":"(c)","x":-112.141,"y":597},
{"k":"title","hue":"plain","t":"FAF-","x":-113.73,"y":586},
{"k":"titleI","hue":"plain","t":"Nar","x":-115.706,"y":586},
{"k":"title","hue":"plain","t":"I 12-mer","x":-117.083,"y":586},
{"k":"seq","hue":"plain","t":"5′-CTC","x":-112.424,"y":539},
{"k":"seq","hue":"mod","t":"G","x":-115.163,"y":539},
{"k":"sub","hue":"mod","t":"1","x":-115.618,"y":532},
{"k":"seq","hue":"mod","t":"G","x":-115.918,"y":539},
{"k":"sub","hue":"mod","t":"2","x":-116.377,"y":532},
{"k":"seq","hue":"plain","t":"C","x":-116.677,"y":539},
{"k":"seq","hue":"mod","t":"G","x":-117.136,"y":539},
{"k":"sub","hue":"mod","t":"3","x":-117.595,"y":532},
{"k":"seq","hue":"plain","t":"CCATC-3′","x":-117.895,"y":539},
{"k":"seq","hue":"plain","t":"3′-GAGC","x":-112.424,"y":512},
{"k":"seq","hue":"plain","t":"C","x":-115.918,"y":512},
{"k":"seq","hue":"plain","t":"GC","x":-116.677,"y":512},
{"k":"seq","hue":"plain","t":"GGTAG-5′","x":-117.895,"y":512},
{"k":"name","hue":"plain","t":"- C","x":-112.424,"y":304},
{"k":"name","hue":"mod","t":"G","x":-113.5,"y":304},
{"k":"nsub","hue":"mod","t":"3","x":-114.118,"y":296},
{"k":"name","hue":"plain","t":"C -","x":-114.471,"y":304},
{"k":"name","hue":"plain","t":"- G","x":-112.353,"y":171},
{"k":"name","hue":"mod","t":"G","x":-113.483,"y":171},
{"k":"nsub","hue":"mod","t":"2","x":-114.118,"y":165},
{"k":"name","hue":"plain","t":"C -","x":-114.471,"y":171},
{"k":"name","hue":"plain","t":"- C","x":-112.424,"y":42},
{"k":"name","hue":"mod","t":"G","x":-113.553,"y":42},
{"k":"nsub","hue":"mod","t":"1","x":-114.188,"y":35},
{"k":"name","hue":"plain","t":"G -","x":-114.541,"y":42},
{"k":"big","hue":"B","t":"B","x":-117.577,"y":414},
{"k":"big","hue":"S","t":"S","x":-118.989,"y":399},
{"k":"pct","hue":"B","t":"35%","x":-116.589,"y":360},
{"k":"pct","hue":"S","t":"65%","x":-119.907,"y":360},
{"k":"pct","hue":"B","t":"69%","x":-116.553,"y":250},
{"k":"pct","hue":"S","t":"31%","x":-119.836,"y":200},
{"k":"pct","hue":"B","t":"42%","x":-116.483,"y":112},
{"k":"pct","hue":"S","t":"58%","x":-120.189,"y":94},
{"k":"ppm","hue":"plain","t":"ppm","x":-121.07,"y":-29}
]
},
"bounds":"flush",
"spacing":124,
"hconcat":[
{"width":255,"height":622,
"encoding":{"x":{"field":"x","type":"quantitative","scale":{"domain":[-121,-112],"reverse":true,"nice":false,"zero":false},"axis":{"title":null,"values":[-112,-113,-114,-115,-116,-117,-118,-119,-120,-121],"labelExpr":"datum.value % 2 === 0 ? '' + datum.value : ''","domainColor":"#231f20","domainWidth":3,"tickColor":"#231f20","tickWidth":2,"tickSize":{"condition":{"test":"datum.value % 2 === 0 || datum.value === -121","value":15},"value":8},"labelFont":"Liberation Sans Narrow, Liberation Sans","labelFontSize":18,"labelFontWeight":"bold","labelColor":"#231f20","labelPadding":-1,"grid":false,"labelFlush":false,"labelOverlap":false}},
"y":{"field":"y","type":"quantitative","scale":{"domain":[0,622],"nice":false,"zero":false},"axis":null}},
"layer":[
{"data":{"name":"sa"},"mark":{"type":"line","color":"#231f20","strokeWidth":2.2,"strokeJoin":"round"},"encoding":{"detail":{"field":"s","type":"nominal"}}},
{"data":{"name":"box"},"mark":{"type":"rect","fill":null,"fillOpacity":0,"stroke":"#231f20","strokeWidth":1.3,"strokeDash":[2,2]},"encoding":{"x2":{"field":"x2"},"y2":{"field":"y2"}}},
{"data":{"name":"inset"},"mark":{"type":"line","color":"#231f20","strokeWidth":4,"strokeJoin":"round"},"encoding":{}},
{"data":{"name":"ga"},"mark":{"type":"line","strokeWidth":3.5,"strokeDash":[3,3]},"encoding":{"detail":{"field":"hue","type":"nominal"},"order":{"field":"o","type":"quantitative"},"color":{"field":"hue","type":"nominal","scale":{"domain":["plain","mod","B","S","W","N"],"range":["#231f20","#ed1c24","#b8479d","#ed1c24","#00a651","#29abe2"]},"legend":null}}},
{"data":{"name":"ta"},"transform":[{"filter":"indexof(['letter','big','pct','inset'], datum.k) >= 0"}],"mark":{"type":"text","align":"center","baseline":"middle","fontWeight":"bold","font":{"expr":"datum.k == 'letter' ? 'Liberation Sans' : 'Open Sans'"},"fontSize":{"expr":"datum.k == 'letter' ? 23 : datum.k == 'big' ? 26 : 18"}},"encoding":{"text":{"field":"t"},"color":{"field":"hue","type":"nominal","scale":{"domain":["plain","mod","B","S","W","N"],"range":["#231f20","#ed1c24","#b8479d","#ed1c24","#00a651","#29abe2"]},"legend":null}}},
{"data":{"name":"ta"},"transform":[{"filter":"datum.k == 'title' || datum.k == 'titleI'"}],"mark":{"type":"text","align":"left","baseline":"alphabetic","font":"Liberation Serif","fontWeight":"bold","fontSize":24.5,"fontStyle":{"expr":"datum.k == 'titleI' ? 'italic' : 'normal'"},"color":"#231f20"},"encoding":{"text":{"field":"t"}}},
{"data":{"name":"ta"},"transform":[{"filter":"datum.k == 'seq' || datum.k == 'sub'"}],"mark":{"type":"text","align":"left","baseline":"alphabetic","font":"DejaVu Sans Mono","fontSize":{"expr":"datum.k == 'sub' ? 14 : 21.5"}},"encoding":{"text":{"field":"t"},"color":{"field":"hue","type":"nominal","scale":{"domain":["plain","mod","B","S","W","N"],"range":["#231f20","#ed1c24","#b8479d","#ed1c24","#00a651","#29abe2"]},"legend":null}}},
{"data":{"name":"ta"},"transform":[{"filter":"datum.k == 'name' || datum.k == 'nsub'"}],"mark":{"type":"text","align":"left","baseline":"alphabetic","font":"DejaVu Sans","fontSize":{"expr":"datum.k == 'nsub' ? 14 : 22"}},"encoding":{"text":{"field":"t"},"color":{"field":"hue","type":"nominal","scale":{"domain":["plain","mod","B","S","W","N"],"range":["#231f20","#ed1c24","#b8479d","#ed1c24","#00a651","#29abe2"]},"legend":null}}},
{"data":{"name":"ta"},"transform":[{"filter":"datum.k == 'star' || datum.k == 'hash'"}],"mark":{"type":"text","align":"center","baseline":"alphabetic","font":"Liberation Sans","color":"#231f20","fontSize":{"expr":"datum.k == 'star' ? 30 : 18"}},"encoding":{"text":{"field":"t"}}},
{"data":{"name":"ta"},"transform":[{"filter":"datum.k == 'ppm'"}],"mark":{"type":"text","align":"left","baseline":"alphabetic","font":"Liberation Sans Narrow, Liberation Sans","fontWeight":"bold","fontSize":18,"color":"#231f20"},"encoding":{"text":{"field":"t"}}}
]},
{"bounds":"flush","spacing":83,"hconcat":[
{"width":255,"height":622,
"encoding":{"x":{"field":"x","type":"quantitative","scale":{"domain":[-121,-112],"reverse":true,"nice":false,"zero":false},"axis":{"title":null,"values":[-112,-113,-114,-115,-116,-117,-118,-119,-120,-121],"labelExpr":"datum.value % 2 === 0 ? '' + datum.value : ''","domainColor":"#231f20","domainWidth":3,"tickColor":"#231f20","tickWidth":2,"tickSize":{"condition":{"test":"datum.value % 2 === 0 || datum.value === -121","value":15},"value":8},"labelFont":"Liberation Sans Narrow, Liberation Sans","labelFontSize":18,"labelFontWeight":"bold","labelColor":"#231f20","labelPadding":-1,"grid":false,"labelFlush":false,"labelOverlap":false}},
"y":{"field":"y","type":"quantitative","scale":{"domain":[0,622],"nice":false,"zero":false},"axis":null}},
"layer":[
{"data":{"name":"sb"},"mark":{"type":"line","color":"#231f20","strokeWidth":2.2,"strokeJoin":"round"},"encoding":{"detail":{"field":"s","type":"nominal"}}},
{"data":{"name":"ul"},"mark":{"type":"rule","strokeWidth":2},"encoding":{"x2":{"field":"x2"},"color":{"field":"hue","type":"nominal","scale":{"domain":["plain","mod","B","S","W","N"],"range":["#231f20","#ed1c24","#b8479d","#ed1c24","#00a651","#29abe2"]},"legend":null}}},
{"data":{"name":"gb"},"mark":{"type":"line","strokeWidth":3.5,"strokeDash":[3,3]},"encoding":{"detail":{"field":"hue","type":"nominal"},"order":{"field":"o","type":"quantitative"},"color":{"field":"hue","type":"nominal","scale":{"domain":["plain","mod","B","S","W","N"],"range":["#231f20","#ed1c24","#b8479d","#ed1c24","#00a651","#29abe2"]},"legend":null}}},
{"data":{"name":"tb"},"transform":[{"filter":"indexof(['letter','big','pct','inset'], datum.k) >= 0"}],"mark":{"type":"text","align":"center","baseline":"middle","fontWeight":"bold","font":{"expr":"datum.k == 'letter' ? 'Liberation Sans' : 'Open Sans'"},"fontSize":{"expr":"datum.k == 'letter' ? 23 : datum.k == 'big' ? 26 : 18"}},"encoding":{"text":{"field":"t"},"color":{"field":"hue","type":"nominal","scale":{"domain":["plain","mod","B","S","W","N"],"range":["#231f20","#ed1c24","#b8479d","#ed1c24","#00a651","#29abe2"]},"legend":null}}},
{"data":{"name":"tb"},"transform":[{"filter":"datum.k == 'title' || datum.k == 'titleI'"}],"mark":{"type":"text","align":"left","baseline":"alphabetic","font":"Liberation Serif","fontWeight":"bold","fontSize":24.5,"fontStyle":{"expr":"datum.k == 'titleI' ? 'italic' : 'normal'"},"color":"#231f20"},"encoding":{"text":{"field":"t"}}},
{"data":{"name":"tb"},"transform":[{"filter":"datum.k == 'seq' || datum.k == 'sub'"}],"mark":{"type":"text","align":"left","baseline":"alphabetic","font":"DejaVu Sans Mono","fontSize":{"expr":"datum.k == 'sub' ? 14 : 21.5"}},"encoding":{"text":{"field":"t"},"color":{"field":"hue","type":"nominal","scale":{"domain":["plain","mod","B","S","W","N"],"range":["#231f20","#ed1c24","#b8479d","#ed1c24","#00a651","#29abe2"]},"legend":null}}},
{"data":{"name":"tb"},"transform":[{"filter":"datum.k == 'name' || datum.k == 'nsub'"}],"mark":{"type":"text","align":"left","baseline":"alphabetic","font":"DejaVu Sans","fontSize":{"expr":"datum.k == 'nsub' ? 14 : 22"}},"encoding":{"text":{"field":"t"},"color":{"field":"hue","type":"nominal","scale":{"domain":["plain","mod","B","S","W","N"],"range":["#231f20","#ed1c24","#b8479d","#ed1c24","#00a651","#29abe2"]},"legend":null}}},
{"data":{"name":"tb"},"transform":[{"filter":"datum.k == 'star' || datum.k == 'hash'"}],"mark":{"type":"text","align":"center","baseline":"alphabetic","font":"Liberation Sans","color":"#231f20","fontSize":{"expr":"datum.k == 'star' ? 30 : 18"}},"encoding":{"text":{"field":"t"}}},
{"data":{"name":"tb"},"transform":[{"filter":"datum.k == 'ppm'"}],"mark":{"type":"text","align":"left","baseline":"alphabetic","font":"Liberation Sans Narrow, Liberation Sans","fontWeight":"bold","fontSize":18,"color":"#231f20"},"encoding":{"text":{"field":"t"}}}
]},
{"width":255,"height":622,
"encoding":{"x":{"field":"x","type":"quantitative","scale":{"domain":[-121,-112],"reverse":true,"nice":false,"zero":false},"axis":{"title":null,"values":[-112,-113,-114,-115,-116,-117,-118,-119,-120,-121],"labelExpr":"datum.value % 2 === 0 ? '' + datum.value : ''","domainColor":"#231f20","domainWidth":3,"tickColor":"#231f20","tickWidth":2,"tickSize":{"condition":{"test":"datum.value % 2 === 0 || datum.value === -121","value":15},"value":8},"labelFont":"Liberation Sans Narrow, Liberation Sans","labelFontSize":18,"labelFontWeight":"bold","labelColor":"#231f20","labelPadding":-1,"grid":false,"labelFlush":false,"labelOverlap":false}},
"y":{"field":"y","type":"quantitative","scale":{"domain":[0,622],"nice":false,"zero":false},"axis":null}},
"layer":[
{"data":{"name":"sc"},"mark":{"type":"line","color":"#231f20","strokeWidth":2.2,"strokeJoin":"round"},"encoding":{"detail":{"field":"s","type":"nominal"}}},
{"data":{"name":"gc"},"mark":{"type":"line","strokeWidth":3.5,"strokeDash":[3,3]},"encoding":{"detail":{"field":"hue","type":"nominal"},"order":{"field":"o","type":"quantitative"},"color":{"field":"hue","type":"nominal","scale":{"domain":["plain","mod","B","S","W","N"],"range":["#231f20","#ed1c24","#b8479d","#ed1c24","#00a651","#29abe2"]},"legend":null}}},
{"data":{"name":"tc"},"transform":[{"filter":"indexof(['letter','big','pct','inset'], datum.k) >= 0"}],"mark":{"type":"text","align":"center","baseline":"middle","fontWeight":"bold","font":{"expr":"datum.k == 'letter' ? 'Liberation Sans' : 'Open Sans'"},"fontSize":{"expr":"datum.k == 'letter' ? 23 : datum.k == 'big' ? 26 : 18"}},"encoding":{"text":{"field":"t"},"color":{"field":"hue","type":"nominal","scale":{"domain":["plain","mod","B","S","W","N"],"range":["#231f20","#ed1c24","#b8479d","#ed1c24","#00a651","#29abe2"]},"legend":null}}},
{"data":{"name":"tc"},"transform":[{"filter":"datum.k == 'title' || datum.k == 'titleI'"}],"mark":{"type":"text","align":"left","baseline":"alphabetic","font":"Liberation Serif","fontWeight":"bold","fontSize":24.5,"fontStyle":{"expr":"datum.k == 'titleI' ? 'italic' : 'normal'"},"color":"#231f20"},"encoding":{"text":{"field":"t"}}},
{"data":{"name":"tc"},"transform":[{"filter":"datum.k == 'seq' || datum.k == 'sub'"}],"mark":{"type":"text","align":"left","baseline":"alphabetic","font":"DejaVu Sans Mono","fontSize":{"expr":"datum.k == 'sub' ? 14 : 21.5"}},"encoding":{"text":{"field":"t"},"color":{"field":"hue","type":"nominal","scale":{"domain":["plain","mod","B","S","W","N"],"range":["#231f20","#ed1c24","#b8479d","#ed1c24","#00a651","#29abe2"]},"legend":null}}},
{"data":{"name":"tc"},"transform":[{"filter":"datum.k == 'name' || datum.k == 'nsub'"}],"mark":{"type":"text","align":"left","baseline":"alphabetic","font":"DejaVu Sans","fontSize":{"expr":"datum.k == 'nsub' ? 14 : 22"}},"encoding":{"text":{"field":"t"},"color":{"field":"hue","type":"nominal","scale":{"domain":["plain","mod","B","S","W","N"],"range":["#231f20","#ed1c24","#b8479d","#ed1c24","#00a651","#29abe2"]},"legend":null}}},
{"data":{"name":"tc"},"transform":[{"filter":"datum.k == 'ppm'"}],"mark":{"type":"text","align":"left","baseline":"alphabetic","font":"Liberation Sans Narrow, Liberation Sans","fontWeight":"bold","fontSize":18,"color":"#231f20"},"encoding":{"text":{"field":"t"}}}
]}
]}
]
}
